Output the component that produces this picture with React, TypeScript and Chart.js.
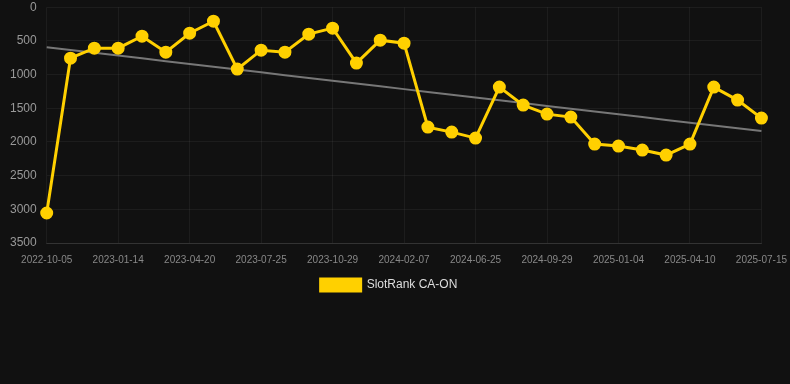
import React, { useEffect, useRef } from "react";
import { Chart, registerables } from "chart.js";

Chart.register(...registerables);

const dates = [
  "2022-10-05", "2022-11-08", "2022-12-11", "2023-01-14", "2023-02-15", "2023-03-19",
  "2023-04-20", "2023-05-25", "2023-06-29", "2023-07-25", "2023-08-30", "2023-09-29",
  "2023-10-29", "2023-12-02", "2024-01-05", "2024-02-07", "2024-03-23", "2024-05-08",
  "2024-06-25", "2024-07-27", "2024-08-28", "2024-09-29", "2024-10-31", "2024-12-02",
  "2025-01-04", "2025-02-05", "2025-03-09", "2025-04-10", "2025-05-12", "2025-06-13",
  "2025-07-15",
];

const rankValues = [
  3055, 756, 608, 608, 430, 667, 386, 208, 919, 638, 667, 400, 311, 830, 489, 534,
  1780, 1854, 1943, 1186, 1453, 1587, 1631, 2031, 2061, 2121, 2195, 2031, 1186, 1379, 1646,
];

const trendStart = 593;
const trendEnd = 1839;

const seriesLabel = "SlotRank CA-ON";
const yTicks = [0, 500, 1000, 1500, 2000, 2500, 3000, 3500];

export default function App() {
  const ref = useRef<HTMLCanvasElement | null>(null);

  useEffect(() => {
    document.body.style.margin = "0";
    document.body.style.background = "#111111";
    const n = dates.length;
    const trend = dates.map((_, i) => trendStart + ((trendEnd - trendStart) * i) / (n - 1));
    const chart = new Chart(ref.current!, {
      type: "line",
      data: {
        labels: dates,
        datasets: [
          {
            label: seriesLabel,
            data: rankValues,
            borderColor: "#FFD000",
            backgroundColor: "#FFD000",
            borderWidth: 3,
            pointRadius: 5,
            pointHoverRadius: 5,
            pointBackgroundColor: "#FFD000",
            pointBorderColor: "#FFD000",
            tension: 0,
          },
          {
            label: "trend",
            data: trend,
            borderColor: "#777777",
            borderWidth: 2,
            pointRadius: 0,
            tension: 0,
          },
        ],
      },
      options: {
        animation: false,
        responsive: false,
        maintainAspectRatio: false,
        layout: { autoPadding: false, padding: { left: 0, right: 20, top: 0, bottom: 0 } },
        scales: {
          x: {
            grid: { color: "rgba(255,255,255,0.05)", drawTicks: false },
            border: { color: "rgba(255,255,255,0.1)" },
            ticks: {
              color: "#888888",
              font: { size: 10, family: "Liberation Sans, Arial, sans-serif" },
              maxRotation: 0,
              autoSkip: true,
              padding: 11,
              callback: function (this: any, v: any, i: number) {
                return i % 3 === 0 ? dates[i] : null;
              },
            },
          },
          y: {
            reverse: true,
            min: 0,
            max: 3500,
            afterBuildTicks: (axis: any) => {
              axis.ticks = yTicks.map((v) => ({ value: v }));
            },
            grid: { color: "rgba(255,255,255,0.05)", drawTicks: false },
            border: { display: false },
            ticks: {
              color: "#999999",
              font: { size: 12, family: "Liberation Sans, Arial, sans-serif" },
              padding: 10,
              callback: (v: any) => String(v),
            },
          },
        },
        plugins: {
          legend: {
            position: "bottom",
            labels: {
              color: "#dddddd",
              boxWidth: 40,
              boxHeight: 12,
              padding: 2,
              font: { size: 12, family: "Liberation Sans, Arial, sans-serif" },
              filter: (item: any) => item.text === seriesLabel,
            },
          },
          tooltip: { enabled: false },
        },
      },
    });
    return () => chart.destroy();
  }, []);

  return (
    <div style={{ width: 790, height: 384, background: "#111111", overflow: "hidden" }}>
      <canvas
        ref={ref}
        width={798}
        height={311}
        style={{ display: "block", marginTop: -10 }}
      />
    </div>
  );
}
